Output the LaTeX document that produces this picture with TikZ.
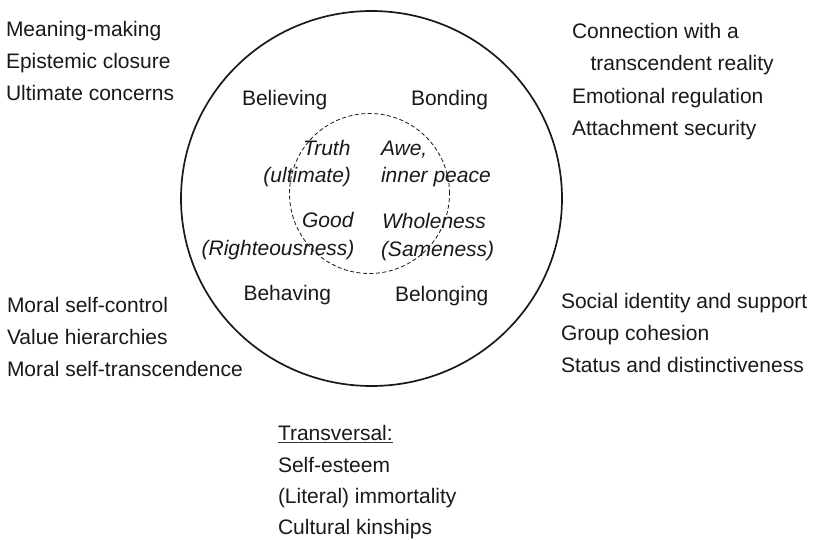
\documentclass[tikz,border=0pt]{standalone}
\usepackage{fontspec}
\setmainfont{Liberation Sans}
\begin{document}
\begin{tikzpicture}[x=1pt,y=-1pt,
  txt/.style={inner sep=0pt,outer sep=0pt,font=\fontsize{21}{25}\selectfont,text=black!90},
  lft/.style={txt,anchor=base west},
  rgt/.style={txt,anchor=base east},
  itl/.style={font=\fontsize{21}{25}\selectfont\itshape},
  outer/.style={draw=black!90,line width=1.7pt},
  inner/.style={draw=black!90,line width=0.8pt,dash pattern=on 4pt off 2.5pt}]
\useasboundingbox (0,0) rectangle (817,539);

% outer circle and inner dashed circle
\coordinate (oc) at (371.5,198.5);
\coordinate (ic) at (369.5,193.5);
\draw[outer] (oc) ellipse [x radius=190.5pt, y radius=187.5pt];

% four dimensions
\node[lft] (believing) at (242,105) {Believing};
\node[lft] (bonding) at (411,105) {Bonding};
\node[lft] (behaving) at (243.5,300) {Behaving};
\node[lft] (belonging) at (395,301.5) {Belonging};

% inner values
\node[rgt,itl] (truth) at (350.5,155) {Truth};
\node[rgt,itl] (ultimate) at (351,182) {(ultimate)};
\node[rgt,itl] (good) at (353.5,227) {Good};
\node[rgt,itl] (righteous) at (354.5,255) {(Righteousness)};
\node[lft,itl] (awe) at (381,155) {Awe,};
\node[lft,itl] (peace) at (381,182) {inner peace};
\node[lft,itl] (wholeness) at (382,228) {Wholeness};
\node[lft,itl] (sameness) at (381,256) {(Sameness)};

\draw[inner] (ic) circle [radius=80pt];

% functions around the circle
\node[lft] (m1) at (6,36) {Meaning-making};
\node[lft] (m2) at (6,68) {Epistemic closure};
\node[lft] (m3) at (6,100) {Ultimate concerns};

\node[lft] (c1) at (572,38) {Connection with a};
\node[lft] (c2) at (590.5,70.5) {transcendent reality};
\node[lft] (c3) at (572,103) {Emotional regulation};
\node[lft] (c4) at (572,135.5) {Attachment security};

\node[lft] (v1) at (7,312) {Moral self-control};
\node[lft] (v2) at (7,344) {Value hierarchies};
\node[lft] (v3) at (7,376) {Moral self-transcendence};

\node[lft] (s1) at (561,308) {Social identity and support};
\node[lft] (s2) at (561,340) {Group cohesion};
\node[lft] (s3) at (561,372) {Status and distinctiveness};

% transversal functions
\node[lft] (tr) at (278,440) {Transversal:};
\draw[black!80,line width=0.7pt] ([yshift=-2.8pt]tr.base west) -- ([yshift=-2.8pt]tr.base east);
\node[lft] (t1) at (278,472) {Self-esteem};
\node[lft] (t2) at (278,503) {(Literal) immortality};
\node[lft] (t3) at (278,534) {Cultural kinships};
\end{tikzpicture}
\end{document}
